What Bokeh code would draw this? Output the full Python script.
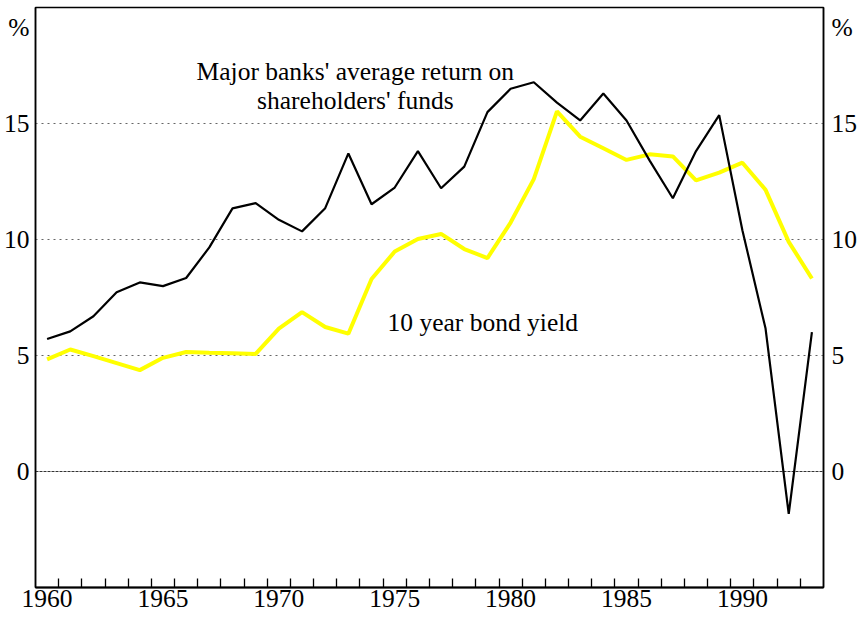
from bokeh.plotting import figure
from bokeh.models import Range1d, LinearAxis, FixedTicker, Grid
from bokeh.core.properties import value
from bokeh.embed import file_html
from bokeh.resources import INLINE

years = list(range(1960, 1994))
bank_roe = [5.71, 6.04, 6.69, 7.73, 8.15, 7.99, 8.34, 9.66, 11.34, 11.57,
            10.85, 10.35, 11.35, 13.71, 11.52, 12.24, 13.81, 12.21, 13.14, 15.49,
            16.50, 16.78, 15.90, 15.13, 16.29, 15.13, 13.40, 11.78, 13.81, 15.36,
            10.40, 6.16, -1.83, 6.01]
bond_yield = [4.83, 5.26, 4.97, 4.67, 4.37, 4.90, 5.15, 5.12, 5.10, 5.07,
              6.16, 6.87, 6.23, 5.94, 8.30, 9.48, 10.02, 10.24, 9.59, 9.20,
              10.73, 12.60, 15.52, 14.43, 13.93, 13.43, 13.67, 13.58, 12.55, 12.88,
              13.31, 12.14, 9.90, 8.32]
y_ticks = [0, 5, 10, 15]
unit_pos = 19.12
x_label_years = [1960, 1965, 1970, 1975, 1980, 1985, 1990]
year_bounds = [y + 0.5 for y in range(1960, 1993)]

FONT = "Liberation Serif"
FS = "25.5px"

p = figure(width=860, height=619, output_backend="svg",
           toolbar_location=None, x_axis_type=None, y_axis_type=None,
           x_range=Range1d(1959.5, 1993.5), y_range=Range1d(-5, 20),
           min_border_top=7, min_border_left=32, min_border_right=36,
           min_border_bottom=32)
p.background_fill_color = "white"
p.border_fill_color = "white"
p.outline_line_color = "black"
p.outline_line_width = 1.5
p.xgrid.visible = False
p.ygrid.visible = False

# gridlines
g = Grid(dimension=1, ticker=FixedTicker(ticks=[5, 10, 15]),
         grid_line_color="#666666", grid_line_dash="2 4", grid_line_width=1.2)
p.add_layout(g)
g0 = Grid(dimension=1, ticker=FixedTicker(ticks=[0]),
          grid_line_color="#333333", grid_line_dash="3 1", grid_line_width=1.2)
p.add_layout(g0)

def yaxis(standoff):
    ax = LinearAxis(ticker=FixedTicker(ticks=y_ticks + [unit_pos]),
                    major_label_overrides={unit_pos: "%"})
    ax.major_tick_in = 0
    ax.major_tick_out = 0
    ax.minor_tick_in = 0
    ax.minor_tick_out = 0
    ax.axis_line_color = "black"
    ax.axis_line_width = 1.5
    ax.major_label_text_font = FONT
    ax.major_label_text_font_size = FS
    ax.major_label_text_color = "black"
    ax.major_label_standoff = standoff
    return ax

p.add_layout(yaxis(6), "left")
p.add_layout(yaxis(8), "right")

xa = LinearAxis(ticker=FixedTicker(ticks=x_label_years, minor_ticks=year_bounds))
xa.major_tick_in = 0
xa.major_tick_out = 0
xa.minor_tick_in = 9
xa.minor_tick_out = 0
xa.minor_tick_line_color = "black"
xa.minor_tick_line_width = 1.3
xa.axis_line_color = "black"
xa.axis_line_width = 2
xa.major_label_text_font = FONT
xa.major_label_text_font_size = FS
xa.major_label_text_color = "black"
xa.major_label_standoff = 2
p.add_layout(xa, "below")

p.line(years, bond_yield, line_color="#ffff00", line_width=4)
p.line(years, bank_roe, line_color="black", line_width=2.2)

p.text(x=[1973.3, 1973.3], y=[17.22, 15.98],
       text=["Major banks' average return on", "shareholders' funds"],
       text_font=value(FONT), text_font_size=FS, text_align="center",
       text_baseline="alphabetic", text_color="black")
p.text(x=[1978.8], y=[6.44], text=["10 year bond yield"],
       text_font=value(FONT), text_font_size=FS, text_align="center",
       text_baseline="alphabetic", text_color="black")

open("out.html", "w").write(file_html(p, INLINE))
